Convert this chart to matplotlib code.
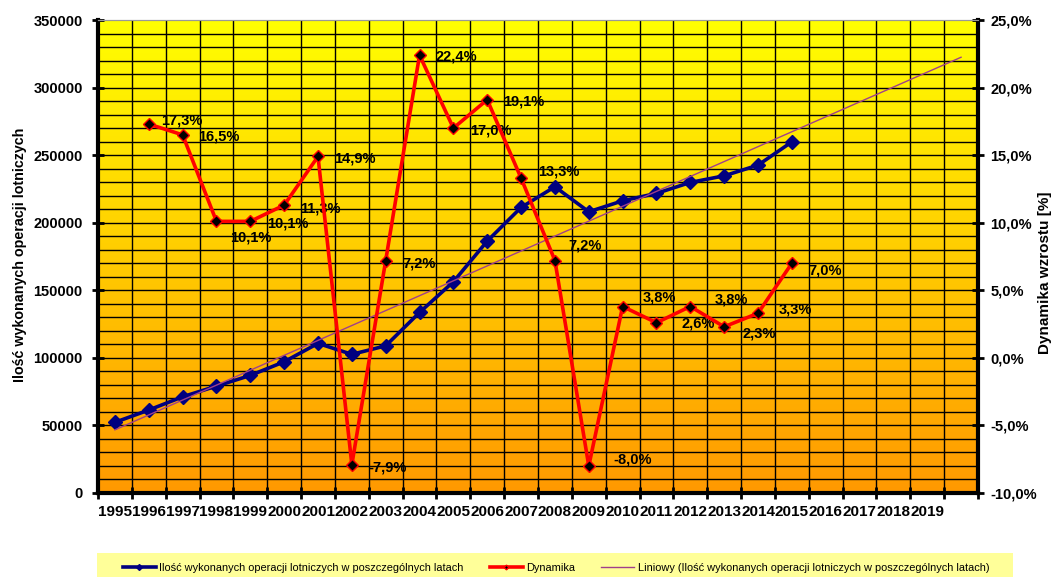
import matplotlib
matplotlib.use('Agg')
import matplotlib.pyplot as plt
import numpy as np
from matplotlib.ticker import FuncFormatter, MultipleLocator
from matplotlib.patches import Rectangle

plt.rcParams['font.family'] = ['Liberation Sans', 'DejaVu Sans']

# lata (ostatnia kategoria bez etykiety)
years = [str(y) for y in range(1995, 2020)] + ['']
# ilosc operacji 1995-2015
operacje = [52300, 61400, 71200, 79100, 87000, 97100, 110700, 102600, 108900,
            133600, 156300, 186400, 211300, 226600, 208100, 216200, 221700,
            229800, 234700, 242600, 259800]
# dynamika wzrostu [%] 1996-2015
dynamika = [17.3, 16.5, 10.1, 10.1, 11.3, 14.9, -7.9, 7.2, 22.4, 17.0, 19.1,
            13.3, 7.2, -8.0, 3.8, 2.6, 3.8, 2.3, 3.3, 7.0]
# przesuniecie etykiet [px]
label_offsets = [(12, 4), (16, -2), (14, -16), (17, -2), (16, -3), (16, -2),
                 (17, -3), (17, -3), (16, -1), (17, -2), (16, -2), (17, 7),
                 (13, 15), (25, 6), (20, 9), (25, -1), (24, 7), (18, -7),
                 (21, 4), (17, -7)]

n = len(years)
x_blue = np.arange(len(operacje))
x_red = np.arange(1, 1 + len(dynamika))

fig = plt.figure(figsize=(10.56, 5.77), dpi=100)
ax = fig.add_axes([98 / 1056, 84 / 577, 880 / 1056, 473 / 577])
ax2 = ax.twinx()

# tlo - gradient
grad = np.linspace(0, 1, 256).reshape(-1, 1)
cmap = matplotlib.colors.LinearSegmentedColormap.from_list('yo', ['#FFFF00', '#FF9900'])
ax.imshow(grad, cmap=cmap, aspect='auto', extent=[0, 1, 0, 1],
          transform=ax.transAxes, zorder=0)

ax.set_xlim(-0.5, n - 0.5)
ax.set_ylim(0, 350000)
ax2.set_ylim(-10, 25)

# siatka
for yv in np.arange(10000, 350000, 10000):
    ax.axhline(yv, color='black', lw=1.0, zorder=1)
for xv in np.arange(0.5, n - 0.5, 1):
    ax.axvline(xv, color='black', lw=1.0, zorder=1)

# linia trendu
a, b = np.polyfit(x_blue, operacje, 1)
xt = np.arange(0, n)
ax.plot(x_blue, operacje, color='#000080', lw=2.6, marker='D', ms=7.5,
        zorder=3, label='Ilość wykonanych operacji lotniczych w poszczególnych latach')
ax.plot(xt, a * xt + b, color='#A0408A', lw=1.0, zorder=4,
        label='Liniowy (Ilość wykonanych operacji lotniczych w poszczególnych latach)')

ax2.plot(x_red, dynamika, color='#FF0000', lw=2.6, marker='D', ms=6,
         mfc='black', mec='#FF0000', mew=1.0, zorder=5, label='Dynamika')
for xi, v, off in zip(x_red, dynamika, label_offsets):
    ax2.annotate(f'{v:.1f}'.replace('.', ',') + '%', (xi, v),
                 xytext=(off[0], off[1]), textcoords='offset pixels',
                 ha='left', va='center', fontsize=10.5, fontweight='bold')

# osie
ax.set_xticks(np.arange(-0.5, n, 1))
ax.set_xticklabels([])
ax.set_xticks(np.arange(n), minor=True)
ax.set_xticklabels(years, minor=True, fontsize=11, fontweight='bold')
ax.tick_params(axis='x', which='major', direction='inout', length=8, width=2)
ax.tick_params(axis='x', which='minor', length=0, pad=9)
ax.yaxis.set_major_locator(MultipleLocator(50000))
ax.tick_params(axis='y', direction='inout', length=8, width=2, pad=7)
for t in ax.get_yticklabels():
    t.set_fontsize(10.5)
    t.set_fontweight('bold')
ax2.yaxis.set_major_locator(MultipleLocator(5))
ax2.yaxis.set_major_formatter(FuncFormatter(lambda v, p: f'{v:.1f}'.replace('.', ',') + '%'))
ax2.tick_params(axis='y', direction='inout', length=8, width=2, pad=5)
for t in ax2.get_yticklabels():
    t.set_fontsize(10.5)
    t.set_fontweight('bold')

for s in ['left', 'bottom']:
    ax.spines[s].set_linewidth(3)
ax2.spines['right'].set_linewidth(3)
ax2.spines['top'].set_color('#999999')
ax.spines['top'].set_color('#999999')
ax2.spines['left'].set_visible(False)
ax2.spines['bottom'].set_visible(False)

ax.set_ylabel('Ilość wykonanych operacji lotniczych', fontsize=10.3, fontweight='bold')
ax.yaxis.set_label_coords(20 / 1056, 322 / 577, transform=fig.transFigure)
ax2.set_ylabel('Dynamika wzrostu [%]', fontsize=11, fontweight='bold')
ax2.yaxis.set_label_coords(1045 / 1056, 304 / 577, transform=fig.transFigure)
ax.yaxis.label.set_va('center')
ax2.yaxis.label.set_va('center')

# legenda
fig.patches.append(Rectangle((97 / 1056, 0), 916 / 1056, 24 / 577,
                             transform=fig.transFigure, facecolor='#FFFF99',
                             edgecolor='none', zorder=0))
h1, l1 = ax.get_legend_handles_labels()
h2, l2 = ax2.get_legend_handles_labels()
fig.legend([h1[0], h2[0], h1[1]], [l1[0], l2[0], l1[1]], ncol=3, frameon=False,
           loc='center', bbox_to_anchor=(556 / 1056, 9 / 577), fontsize=7.9,
           handlelength=3.0, handletextpad=0.3, columnspacing=2.4,
           markerscale=0.4, borderpad=0)

fig.savefig('out.png', dpi=100)
